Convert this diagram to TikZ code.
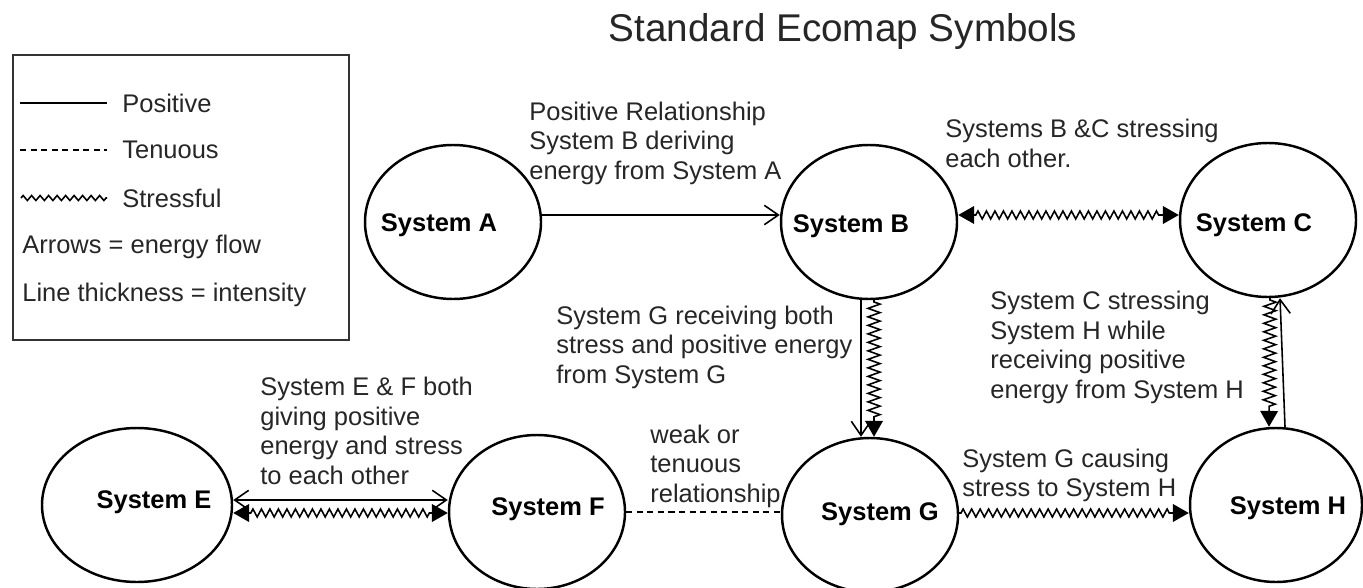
\documentclass[tikz,border=0pt]{standalone}
\usepackage{fontspec}
\setmainfont{Liberation Sans}
\usetikzlibrary{positioning,shapes.geometric,arrows.meta,decorations.pathmorphing}

\tikzset{
    openhead/.tip={Straight Barb[length=8pt, width=11pt]},
    solidhead/.tip={Triangle[length=9pt, width=10pt]},
}

\begin{document}
\begin{tikzpicture}[
    system/.style={ellipse, draw, line width=1.4pt, minimum width=3.52cm, minimum height=3.08cm, inner sep=0pt},
    syslabel/.style={font=\fontsize{14.5pt}{16.8pt}\selectfont\bfseries},
    note/.style={font=\fontsize{14.5pt}{16.8pt}\selectfont, align=left, anchor=west, inner sep=0pt, text=black!85},
    positive/.style={line width=0.9pt},
    tenuous/.style={line width=0.7pt, dash pattern=on 3.5pt off 2.5pt},
    stress/.style={line width=0.9pt, decorate, decoration={zigzag, segment length=0.17cm, amplitude=0.08cm, pre length=1pt, post length=10pt}},
]
\useasboundingbox (0,0) rectangle (27.26,11.74);

% Title
\node[font=\fontsize{22pt}{26pt}\selectfont, text=black!85] (title) at (16.86, 11.1) {Standard Ecomap Symbols};

% Legend
\draw[line width=0.8pt, draw=black!80] (0.26, 4.94) rectangle (6.98, 10.64);
\draw[positive] (0.4, 9.68) -- (2.14, 9.68);
\node[note] (legpos) at (2.44, 9.68) {Positive};
\draw[tenuous] (0.4, 8.74) -- (2.14, 8.74);
\node[note] (legten) at (2.44, 8.74) {Tenuous};
\draw[stress, decoration={amplitude=0.05cm, segment length=0.17cm, pre length=0pt, post length=0pt}] (0.42, 7.78) -- (2.14, 7.78);
\node[note] (legstr) at (2.44, 7.78) {Stressful};
\node[note] (legarr) at (0.44, 6.80) {Arrows = energy flow};
\node[note] (legthk) at (0.44, 5.84) {Line thickness = intensity};

% Systems
\node[system, label={[syslabel, xshift=-0.28cm, yshift=-0.07cm]center:System A}] (sysA) at (9.06, 7.30) {};
\node[system, label={[syslabel, xshift=-0.36cm, yshift=-0.08cm]center:System B}] (sysB) at (17.38, 7.30) {};
\node[system, label={[syslabel, xshift=-0.28cm, yshift=-0.1cm]center:System C}] (sysC) at (25.36, 7.34) {};
\node[system, minimum width=3.8cm, label={[syslabel, xshift=0.34cm, yshift=0.06cm]center:System E}] (sysE) at (2.74, 1.64) {};
\node[system, label={[syslabel, xshift=0.22cm, yshift=0.06cm]center:System F}] (sysF) at (10.74, 1.50) {};
\node[system, label={[syslabel, xshift=0.2cm, yshift=0.02cm]center:System G}] (sysG) at (17.40, 1.44) {};
\node[system, minimum width=3.44cm, label={[syslabel, xshift=0.24cm, yshift=-0.06cm]center:System H}] (sysH) at (25.52, 1.64) {};

% A to B
\draw[positive, -openhead] ([yshift=0.14cm]sysA.east) -- ([yshift=0.14cm]sysA.east -| sysB.west);

% B and C
\draw[stress, solidhead-solidhead, decoration={pre length=10pt}] ([yshift=0.14cm]sysB.east) -- ([yshift=0.14cm]sysB.east -| sysC.west);

% B to G
\draw[positive, -openhead] ([xshift=-0.16cm]sysB.south) -- ([xshift=-0.16cm]sysB.south |- sysG.north);
\draw[stress, -solidhead, decoration={amplitude=0.12cm}] ([xshift=0.1cm]sysB.south) -- ([xshift=0.1cm]sysB.south |- sysG.north);

% C and H
\draw[positive, -openhead] ([xshift=0.18cm]sysH.north) -- ([xshift=0.24cm]sysC.south);
\draw[stress, -solidhead, decoration={amplitude=0.12cm}] ([xshift=0.04cm]sysC.south) -- ([xshift=-0.14cm]sysH.north);

% E and F
\draw[positive, openhead-openhead] ([yshift=0.1cm]sysE.east) -- ([yshift=0.1cm]sysE.east -| sysF.west);
\draw[stress, solidhead-solidhead, decoration={pre length=10pt}] ([yshift=-0.16cm]sysE.east) -- ([yshift=-0.16cm]sysE.east -| sysF.west);

% F to G
\draw[tenuous] (sysF.east) -- (sysF.east -| sysG.west);

% G to H
\draw[stress, -solidhead] ([yshift=0.04cm]sysG.east) -- ([yshift=0.04cm]sysG.east -| sysH.west);

% Notes
\node[note] (noteAB) at (10.58, 8.88) {Positive Relationship\\System B deriving\\energy from System A};
\node[note] (noteBC) at (18.9, 8.87) {Systems B \&C stressing\\each other.};
\node[note] (noteBG) at (11.12, 4.80) {System G receiving both\\stress and positive energy\\from System G};
\node[note] (noteCH) at (19.8, 4.79) {System C stressing\\System H while\\receiving positive\\energy from System H};
\node[note] (noteEF) at (5.2, 3.12) {System E \& F both\\giving positive\\energy and stress\\to each other};
\node[note] (noteFG) at (13.0, 2.42) {weak or\\tenuous\\relationship};
\node[note] (noteGH) at (19.24, 2.23) {System G causing\\stress to System H};

\end{tikzpicture}
\end{document}
